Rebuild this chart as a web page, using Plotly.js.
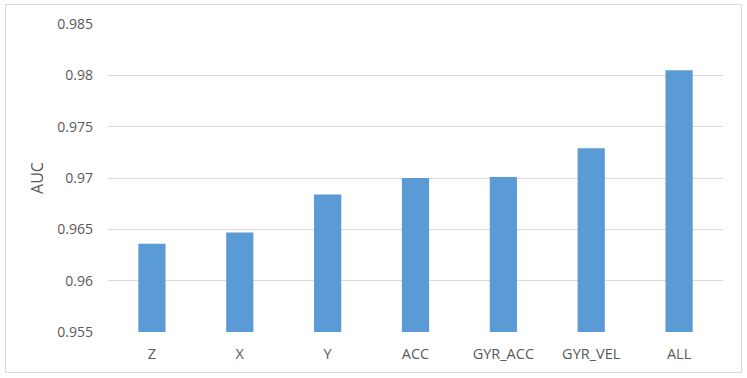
<!DOCTYPE html>
<html>
<head>
<meta charset="utf-8">
<script src="https://cdn.plot.ly/plotly-3.0.1.min.js"></script>
<style>
html,body{margin:0;padding:0;background:#fff;}
#frame{position:absolute;left:5px;top:4px;width:737px;height:369px;border:1px solid #d9d9d9;box-sizing:border-box;}
#chart{position:absolute;left:0;top:0;width:747px;height:378px;}
</style>
</head>
<body>
<div id="frame"></div>
<div id="chart"></div>
<script>
var categories = ["Z", "X", "Y", "ACC", "GYR_ACC", "GYR_VEL", "ALL"];
var aucValues = [0.9636, 0.9647, 0.9684, 0.9700, 0.9701, 0.9729, 0.9805];
var yTicks = [0.955, 0.96, 0.965, 0.97, 0.975, 0.98, 0.985];

var fam = "Open Sans, Liberation Sans, sans-serif";
var grey = "#595959";

Plotly.newPlot("chart", [{
  type: "bar",
  x: categories,
  y: aucValues,
  marker: {color: "#5B9BD5", line: {width: 0}},
  hoverinfo: "x+y"
}], {
  width: 747, height: 378,
  margin: {l: 108, r: 24, t: 24, b: 46},
  paper_bgcolor: "rgba(0,0,0,0)",
  plot_bgcolor: "rgba(0,0,0,0)",
  bargap: 0.69,
  showlegend: false,
  font: {family: fam, size: 14, color: grey},
  xaxis: {
    showgrid: false, zeroline: false, showline: false,
    ticks: "", tickfont: {family: fam, size: 14.5, color: grey}, ticklabelstandoff: 11
  },
  yaxis: {
    range: [0.955, 0.985],
    tickvals: yTicks,
    ticktext: yTicks.map(function(v){ return String(v); }),
    showgrid: true, gridcolor: "#d9d9d9", gridwidth: 1,
    zeroline: false, showline: false, ticks: "",
    tickfont: {family: fam, size: 14, color: grey}, ticklabelstandoff: 14,
    title: {text: "AUC", font: {family: fam, size: 16, color: grey}, standoff: 9}
  }
}, {displayModeBar: false, staticPlot: true});
</script>
</body>
</html>
